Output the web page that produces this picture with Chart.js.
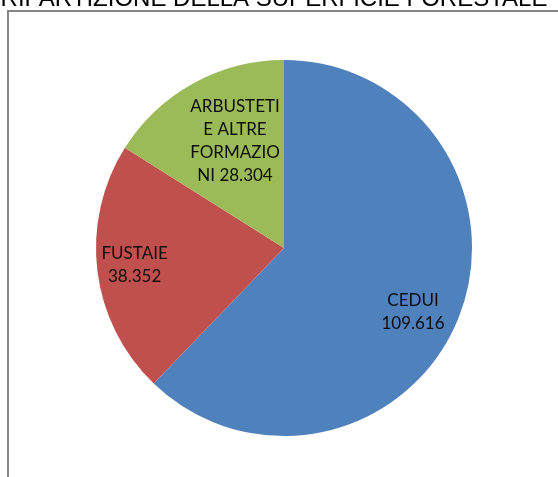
<!DOCTYPE html>
<html>
<head>
<meta charset="utf-8">
<script src="https://cdn.jsdelivr.net/npm/chart.js@4/dist/chart.umd.min.js"></script>
<style>
    html, body { margin: 0; padding: 0; background: #fff; }
    #wrap { position: relative; width: 558px; height: 477px; overflow: hidden; }
</style>
</head>
<body>
<div id="wrap"><canvas id="pie-chart" width="558" height="477"></canvas></div>
<script>
// Data
const categories = ['CEDUI', 'FUSTAIE', 'ARBUSTETI E ALTRE FORMAZIONI'];
const values = [109.616, 38.352, 28.304];
const valueLabels = ['109.616', '38.352', '28.304'];
const sliceColors = ['#4f81bd', '#c0504d', '#9bbb59'];
const chartTitle = 'RIPARTIZIONE DELLA SUPERFICIE FORESTALE';

// Label text as wrapped in the original (best-fit labels)
const labelLines = [
    ['CEDUI', valueLabels[0]],
    ['FUSTAIE', valueLabels[1]],
    ['ARBUSTETI', 'E ALTRE', 'FORMAZIO', 'NI ' + valueLabels[2]]
];
// where each label sits: fraction of radius, and a small turn (degrees) off the slice middle
const labelRadius = [0.765, 0.80, 0.626];
const labelTurn = [4.3, 0.3, 4.3];

// Frame + clipped title
const framePlugin = {
    id: 'frame',
    beforeDraw(chart) {
        const ctx = chart.ctx;
        ctx.save();
        ctx.strokeStyle = '#868686';
        ctx.lineWidth = 2;
        ctx.beginPath();
        ctx.moveTo(8, chart.height);
        ctx.lineTo(8, 11);
        ctx.lineTo(chart.width, 11);
        ctx.stroke();

        ctx.fillStyle = '#000';
        ctx.font = '24px "Liberation Sans", Arial, sans-serif';
        ctx.textAlign = 'center';
        ctx.textBaseline = 'alphabetic';
        ctx.fillText(chartTitle, 274, 6);
        ctx.restore();
    }
};

// Slice labels
const sliceLabelPlugin = {
    id: 'sliceLabels',
    afterDatasetsDraw(chart) {
        const ctx = chart.ctx;
        const meta = chart.getDatasetMeta(0);
        ctx.save();
        ctx.fillStyle = '#0d0d0d';
        ctx.font = '17px Lato, "Open Sans", sans-serif';
        ctx.textAlign = 'center';
        ctx.textBaseline = 'middle';
        meta.data.forEach((arc, i) => {
            const p = arc.getProps(['x', 'y', 'startAngle', 'endAngle', 'outerRadius'], true);
            const mid = (p.startAngle + p.endAngle) / 2 + labelTurn[i] * Math.PI / 180;
            const r = p.outerRadius * labelRadius[i];
            const cx = p.x + Math.cos(mid) * r;
            const cy = p.y + Math.sin(mid) * r;
            const lines = labelLines[i];
            const lh = 23;
            lines.forEach((line, j) => {
                ctx.fillText(line, cx, cy + (j - (lines.length - 1) / 2) * lh);
            });
        });
        ctx.restore();
    }
};

const ctx = document.getElementById('pie-chart').getContext('2d');
new Chart(ctx, {
    type: 'pie',
    data: {
        labels: categories,
        datasets: [{
            data: values,
            backgroundColor: sliceColors,
            borderWidth: 0
        }]
    },
    options: {
        responsive: false,
        animation: false,
        layout: { padding: { left: 96, right: 86, top: 60, bottom: 41 } },
        plugins: {
            legend: { display: false },
            title: { display: false },
            tooltip: { enabled: false }
        }
    },
    plugins: [framePlugin, sliceLabelPlugin]
});
</script>
</body>
</html>
